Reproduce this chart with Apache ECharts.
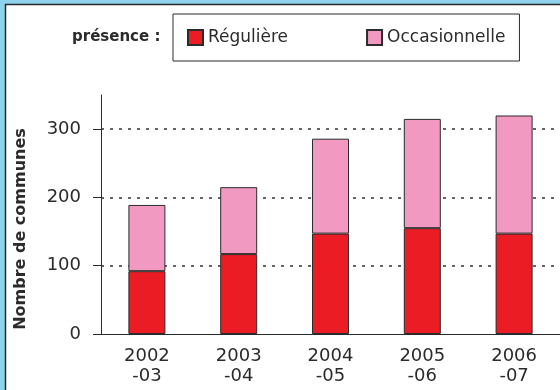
<!DOCTYPE html>
<html>
<head>
<meta charset="utf-8">
<script src="https://cdn.jsdelivr.net/npm/echarts@6/dist/echarts.min.js"></script>
<style>
  html, body { margin: 0; padding: 0; background: #8dd3eb; }
  #chart { width: 560px; height: 390px; }
</style>
</head>
<body>
<div id="chart"></div>
<script>
// Communes par saison, selon le type de présence
const seasons = ['2002\n-03', '2003\n-04', '2004\n-05', '2005\n-06', '2006\n-07'];
const reguliere = [92, 117, 147, 155, 147];
const occasionnelle = [97, 98, 139, 160, 173];
const yTicks = [0, 100, 200, 300];

const FONT = 'DejaVu Sans';
const INK = '#2b2b2b';

const chart = echarts.init(document.getElementById('chart'));
chart.setOption({
  backgroundColor: '#8dd3eb',
  animation: false,
  graphic: [
    {
      type: 'rect',
      z: -10,
      shape: { x: 5.5, y: 4.5, width: 600, height: 400 },
      style: { fill: '#ffffff', stroke: INK, lineWidth: 1.5 }
    },
    {
      type: 'text',
      left: 72,
      top: 30,
      style: { text: 'présence :', font: 'bold 15px "DejaVu Sans"', fill: INK }
    },
    {
      type: 'text',
      x: 21,
      y: 229,
      rotation: Math.PI / 2,
      style: {
        text: 'Nombre de communes',
        font: 'bold 16px "DejaVu Sans"',
        fill: INK,
        align: 'center',
        verticalAlign: 'middle'
      }
    }
  ],
  legend: {
    left: 173,
    top: 14,
    padding: [15, 14, 15, 14],
    icon: 'rect',
    itemWidth: 15,
    itemHeight: 15,
    itemGap: 78,
    borderColor: INK,
    borderWidth: 1,
    backgroundColor: '#ffffff',
    selectedMode: false,
    textStyle: { fontFamily: FONT, fontSize: 17, color: INK },
    data: ['Régulière', 'Occasionnelle']
  },
  grid: { left: 101, right: 0, top: 95, bottom: 56, containLabel: false },
  xAxis: {
    type: 'category',
    data: seasons,
    axisLine: { lineStyle: { color: INK, width: 1 } },
    axisTick: { length: 8, lineStyle: { color: INK } },
    axisLabel: {
      fontFamily: FONT,
      fontSize: 18,
      color: INK,
      lineHeight: 20,
      margin: 12
    }
  },
  yAxis: {
    type: 'value',
    min: 0,
    max: 350,
    interval: 100,
    axisLine: { show: true, lineStyle: { color: INK, width: 1 } },
    axisTick: { show: true, length: 8, customValues: yTicks, lineStyle: { color: INK } },
    axisLabel: {
      customValues: yTicks,
      fontFamily: FONT,
      fontSize: 18,
      color: INK,
      margin: 20
    },
    splitLine: {
      show: true,
      showMinLine: false,
      showMaxLine: true,
      lineStyle: { color: '#333333', type: [3, 6], width: 1.5 }
    }
  },
  series: [
    {
      name: 'Régulière',
      type: 'bar',
      stack: 'total',
      barWidth: 37,
      data: reguliere,
      itemStyle: { color: '#ec1c24', borderColor: INK, borderWidth: 1 }
    },
    {
      name: 'Occasionnelle',
      type: 'bar',
      stack: 'total',
      barWidth: 37,
      data: occasionnelle,
      itemStyle: { color: '#f299c2', borderColor: INK, borderWidth: 1 }
    }
  ]
});
</script>
</body>
</html>
